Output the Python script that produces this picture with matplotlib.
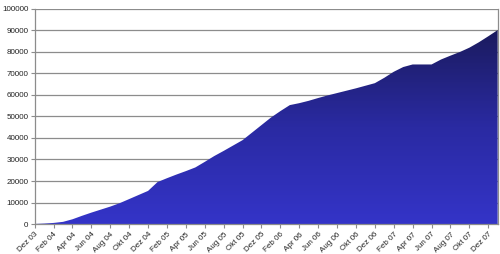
import numpy as np
import matplotlib
matplotlib.use("Agg")
import matplotlib.pyplot as plt
from matplotlib.colors import LinearSegmentedColormap

months = ["Dez 03", "Jan 04", "Feb 04", "Mär 04", "Apr 04", "Mai 04", "Jun 04", "Jul 04",
          "Aug 04", "Sep 04", "Okt 04", "Nov 04", "Dez 04", "Jan 05", "Feb 05", "Mär 05",
          "Apr 05", "Mai 05", "Jun 05", "Jul 05", "Aug 05", "Sep 05", "Okt 05", "Nov 05",
          "Dez 05", "Jan 06", "Feb 06", "Mär 06", "Apr 06", "Mai 06", "Jun 06", "Jul 06",
          "Aug 06", "Sep 06", "Okt 06", "Nov 06", "Dez 06", "Jan 07", "Feb 07", "Mär 07",
          "Apr 07", "Mai 07", "Jun 07", "Jul 07", "Aug 07", "Sep 07", "Okt 07", "Nov 07",
          "Dez 07", "Jan 08"]
values = [0, 200, 500, 1000, 2200, 3800, 5300, 6700,
          8100, 9700, 11600, 13500, 15400, 19500, 21300, 23000,
          24600, 26300, 28900, 31600, 34000, 36500, 39000, 42500,
          46000, 49500, 52500, 55300, 56200, 57300, 58600, 59800,
          60900, 62000, 63100, 64300, 65500, 68000, 70800, 73000,
          74200, 74200, 74200, 76500, 78300, 80000, 82000, 84500,
          87300, 90200]
yticks = list(range(0, 100001, 10000))

plt.rcParams['font.family'] = ['Liberation Sans', 'DejaVu Sans']

fig = plt.figure(figsize=(5.0, 2.54), dpi=100)
ax = fig.add_axes([0.0694, 0.1181, 0.9260, 0.8465])

x = np.arange(len(values))
poly = ax.fill_between(x, values, 0, color='none', linewidth=0)

cmap = LinearSegmentedColormap.from_list('g', ['#3434c8', '#2a2aa2', '#1b1b5e'])
grad = np.linspace(0, 1, 256).reshape(-1, 1)
im = ax.imshow(grad, aspect='auto', cmap=cmap, origin='lower',
               extent=[0, len(values) - 1, 0, max(values)], zorder=2)
path = poly.get_paths()[0]
im.set_clip_path(path, transform=ax.transData)

ax.set_xlim(0, len(values) - 1)
ax.set_ylim(0, 100000)
ax.set_yticks(yticks)
ax.set_yticklabels([str(v) for v in yticks])
ax.grid(axis='y', color='#8c8c8c', linewidth=0.9, zorder=1)
ax.set_axisbelow(True)

tick_idx = list(range(0, len(values), 2))
ax.set_xticks(tick_idx)
ax.set_xticklabels([months[i] for i in tick_idx], rotation=45, ha='right', va='top',
                   rotation_mode='anchor')

for s in ['left', 'bottom', 'right', 'top']:
    ax.spines[s].set_color('#8c8c8c')
    ax.spines[s].set_linewidth(0.9)
ax.spines['top'].set_visible(False)

ax.tick_params(axis='both', labelsize=5.8, colors='#8c8c8c', labelcolor='#222222',
               length=3, width=0.8, direction='out')
ax.tick_params(axis='x', pad=2)
ax.tick_params(axis='y', pad=1.5)

fig.savefig('out.png', dpi=100)
